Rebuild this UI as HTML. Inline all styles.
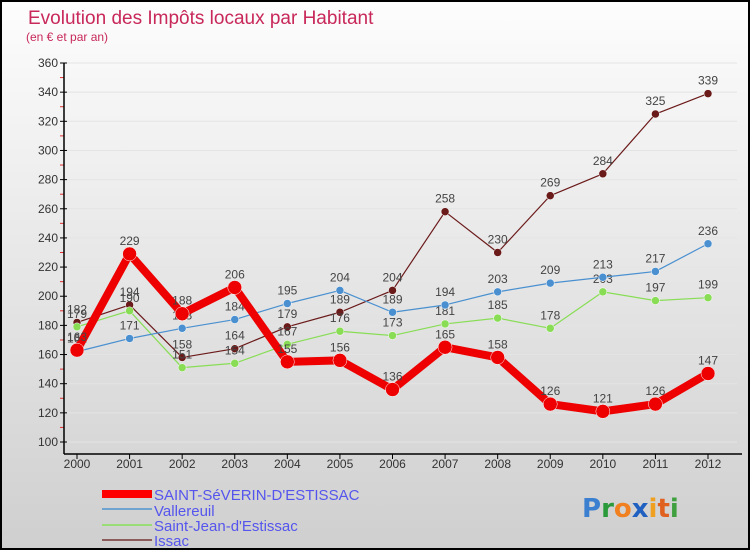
<!DOCTYPE html>
<html><head><meta charset="utf-8"><style>
body{margin:0}
#c{width:750px;height:550px;position:relative;box-sizing:border-box;border:2px solid #000;background:linear-gradient(#fdfdfd,#cfcfcf);font-family:"Liberation Sans",sans-serif;overflow:hidden}
</style></head><body>
<div id="c">
<svg id="s" width="746" height="546" style="position:absolute;left:0;top:0">
<text x="26" y="22" font-size="19" fill="#c8285a">Evolution des Impôts locaux par Habitant</text>
<text x="24" y="39" font-size="12" fill="#c8285a">(en € et par an)</text>
<g id="grid"></g><g id="axes"></g><g id="series"></g>
<g id="legend" font-size="15" fill="#5555ee">
<rect x="100" y="488" width="50" height="8" fill="#f00"/>
<text x="152" y="498" fill="#5555ee">SAINT-SéVERIN-D'ESTISSAC</text>
<rect x="100" y="506" width="50" height="2" fill="#6fa3d0"/>
<text x="152" y="514" fill="#5555ee">Vallereuil</text>
<rect x="100" y="522" width="50" height="2" fill="#99dd77"/>
<text x="152" y="529" fill="#5555ee">Saint-Jean-d'Estissac</text>
<rect x="100" y="537" width="50" height="2" fill="#8b5a5a"/>
<text x="152" y="544" fill="#5555ee">Issac</text>
</g>
<g font-size="26" font-family="'DejaVu Sans',sans-serif" font-weight="bold">
<text x="580" y="515"><tspan fill="#3a7fd0">P</tspan><tspan fill="#2a9a3a">r</tspan><tspan fill="#f08020">o</tspan><tspan fill="#2060c0">x</tspan><tspan fill="#f0a020">i</tspan><tspan fill="#e06020">t</tspan><tspan fill="#40a040">i</tspan></text>
</g>
</svg>
</div>
<script>
const years=[2000,2001,2002,2003,2004,2005,2006,2007,2008,2009,2010,2011,2012];
const saintSeverin=[163,229,188,206,155,156,136,165,158,126,121,126,147];
const vallereuil=[162,171,178,184,195,204,189,194,203,209,213,217,236];
const saintJean=[179,190,151,154,167,176,173,181,185,178,203,197,199];
const issac=[182,194,158,164,179,189,204,258,230,269,284,325,339];
const yTicks=[100,120,140,160,180,200,220,240,260,280,300,320,340,360];
const NS='http://www.w3.org/2000/svg';
const X=i=>75+i*(706-75)/(years.length-1);
const Y=v=>440-(v-100)*(440-61)/260;
function mk(t,a,p){const e=document.createElementNS(NS,t);for(const k in a)e.setAttribute(k,a[k]);p.appendChild(e);return e;}
const grid=document.getElementById('grid'),axes=document.getElementById('axes'),ser=document.getElementById('series');
yTicks.forEach(v=>{
 const l=mk('line',{x1:62,x2:735,y1:Y(v),y2:Y(v),stroke:'#e4e4e4','stroke-width':1},grid);
 
 
 const t=mk('text',{x:56,y:Y(v)+4,'font-size':12,'text-anchor':'end',fill:'#333'},axes);t.textContent=v;
 
 
 mk('line',{x1:58,x2:65,y1:Y(v),y2:Y(v),stroke:'#000'},axes);
 if(v<360) mk('line',{x1:58,x2:62,y1:Y(v+10),y2:Y(v+10),stroke:'#e03030'},axes);
});
mk('line',{x1:62,x2:62,y1:61,y2:452,stroke:'#000','stroke-width':1.5},axes);
mk('line',{x1:62,x2:740,y1:452,y2:452,stroke:'#000','stroke-width':1.5},axes);
years.forEach((y,i)=>{
 mk('line',{x1:X(i),x2:X(i),y1:452,y2:457,stroke:'#000'},axes);
 const t=mk('text',{x:X(i),y:466,'font-size':12,'text-anchor':'middle',fill:'#333'},axes);t.textContent=y;
 
 
});
function draw(data,color,w,r,name){
 const g=mk('g',{},ser);
 
 
 mk('polyline',{points:data.map((v,i)=>X(i)+','+Y(v)).join(' '),fill:'none',stroke:color,'stroke-width':w,'stroke-linejoin':'round'},g);
 data.forEach((v,i)=>{
  const c=mk('circle',{cx:X(i),cy:Y(v),r:r,fill:color,stroke:'#fff','stroke-width':0.5},g);
  
  
  const t=mk('text',{x:X(i),y:Y(v)-9,'font-size':12,'text-anchor':'middle',fill:'#444'},g);t.textContent=v;
 });
}
draw(issac,'#6b1a1a',1.2,4,'issac');
draw(saintJean,'#88dd55',1.2,4,'saint-jean');
draw(vallereuil,'#4a90d0',1.2,4,'vallereuil');
draw(saintSeverin,'#ee0000',8,7,'saint-severin');
</script>
</body></html>
